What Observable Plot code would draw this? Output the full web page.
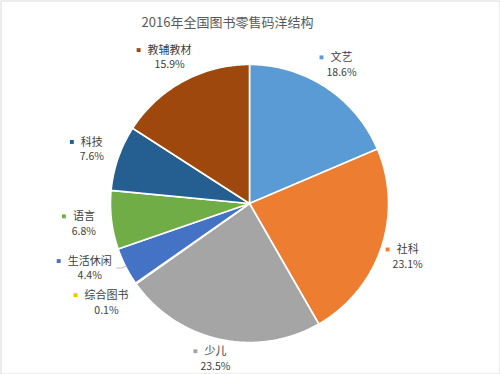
<!DOCTYPE html>
<html><head><meta charset="utf-8">
<script src="https://cdn.jsdelivr.net/npm/d3@7"></script>
<script src="https://cdn.jsdelivr.net/npm/@observablehq/plot@0.6"></script>
<style>body{margin:0;background:#fff}</style>
</head><body><div id="chart"></div>
<script>
const title = "2016年全国图书零售码洋结构";
const categories = ["文艺","社科","少儿","综合图书","生活休闲","语言","科技","教辅教材"];
const shares = [18.6, 23.1, 23.5, 0.1, 4.4, 6.8, 7.6, 15.9];
const percentLabels = ["18.6%","23.1%","23.5%","0.1%","4.4%","6.8%","7.6%","15.9%"];
const colors = ["#5B9BD5","#ED7D31","#A5A5A5","#FFC000","#4472C4","#70AD47","#255E91","#9E480E"];
const labelRadius = [1.2, 1.2, 1.14, 1.25, 1.24, 1.2, 1.2, 1.2];
const labelAngleShift = [0, 0, 0, 0.5, 5, 0, 0, 0]; // degrees

const PX = 139; // pixels per unit radius
const CH = 11;  // label glyph width
const arcs = d3.pie().sort(null).value(d => d)(shares);

const slicePts = [];
arcs.forEach((p, i) => {
  const cat = categories[i];
  const n = Math.max(2, Math.ceil((p.endAngle - p.startAngle) / 0.01));
  slicePts.push({cat, u: 0, v: 0});
  for (let k = 0; k <= n; k++) {
    const a = p.startAngle + (p.endAngle - p.startAngle) * k / n;
    slicePts.push({cat, u: Math.sin(a), v: -Math.cos(a)});
  }
  slicePts.push({cat, u: 0, v: 0});
});

const labels = arcs.map((p, i) => {
  const mid = (p.startAngle + p.endAngle) / 2;
  const a = mid + labelAngleShift[i] * Math.PI / 180;
  const R = labelRadius[i];
  const u = R * Math.sin(a), v = -R * Math.cos(a);
  const nameW = categories[i].length * CH;
  return {cat: categories[i], pct: percentLabels[i], u, v,
          mu: u - (nameW / 2 + 9) / PX, mid};
});

// leader line for 生活休闲
const li = 4;
const lm = labels[li].mid;
const ax = Math.sin(lm), ay = -Math.cos(lm);
const leader = [
  {u: labels[li].u + (categories[li].length * CH / 2 + 5) / PX, v: labels[li].v},
  {u: ax - 4 / PX, v: labels[li].v},
  {u: ax, v: ay}
];

const chart = Plot.plot({
  width: 500, height: 374, margin: 0,
  style: {fontFamily: '"Noto Sans CJK SC", "Noto Sans", sans-serif', background: "#fff"},
  x: {domain: [-1, 1], range: [110, 388], axis: null},
  y: {domain: [-1, 1], range: [64, 342], axis: null},
  color: {type: "ordinal", domain: categories, range: colors},
  marks: [
    Plot.frame({stroke: "#d9d9d9", inset: 0.5}),
    Plot.line(slicePts, {x: "u", y: "v", z: "cat", fill: "cat", stroke: "white", strokeWidth: 1.6, strokeLinejoin: "round", curve: "linear"}),
    Plot.line(leader, {x: "u", y: "v", stroke: "#bfbfbf", strokeWidth: 1}),
    Plot.text(labels, {x: "u", y: "v", text: "cat", dy: -7, fontSize: 11, fill: "#404040"}),
    Plot.text(labels, {x: "u", y: "v", text: "pct", dy: 8, fontSize: 10.5, fill: "#404040"}),
    Plot.dot(labels, {x: "mu", y: "v", dy: -7, symbol: "square", r: 2.2, fill: "cat", stroke: null}),
    Plot.text([title], {frameAnchor: "top", dx: -23, dy: 17, text: d => d, fontSize: 13, fill: "#595959"})
  ]
});
document.getElementById("chart").appendChild(chart);
</script>
</body></html>
